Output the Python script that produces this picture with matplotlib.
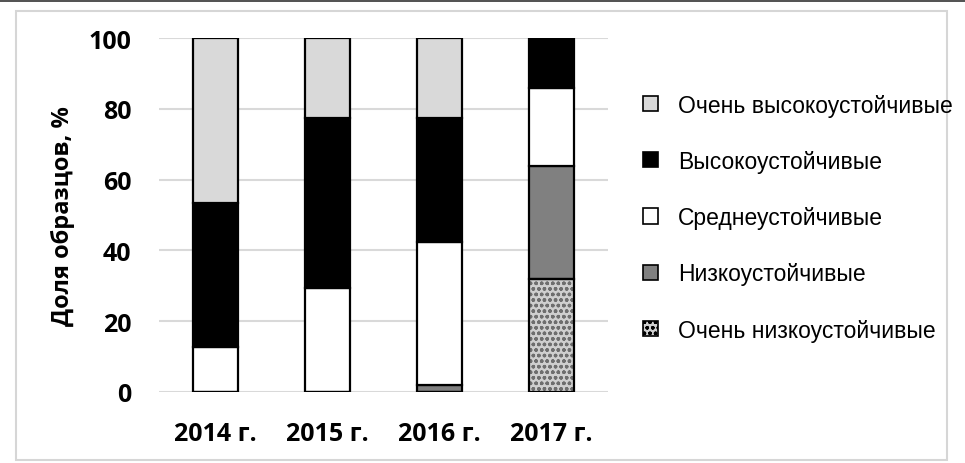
import matplotlib
matplotlib.use('Agg')
import matplotlib.pyplot as plt
from matplotlib.patches import Patch, Rectangle
import numpy as np

years = ['2014 г.', '2015 г.', '2016 г.', '2017 г.']
very_low = [0, 0, 0, 31.8]
low = [0, 0, 2.0, 32.2]
medium = [12.6, 29.5, 40.4, 21.9]
high = [40.8, 47.9, 35.0, 14.1]
very_high = [46.6, 22.6, 22.6, 0]

labels = ['Очень низкоустойчивые', 'Низкоустойчивые', 'Среднеустойчивые',
          'Высокоустойчивые', 'Очень высокоустойчивые']
colors = ['#cfcfcf', '#808080', '#ffffff', '#000000', '#d9d9d9']

W, H = 965, 464
fig = plt.figure(figsize=(9.65, 4.64), dpi=100)
ax = fig.add_axes([159 / W, 1 - 392.8 / H, (607.7 - 159) / W, (392.8 - 39.3) / H])

x = np.arange(len(years))
bw = 0.4
bottom = np.zeros(len(years))
series = [very_low, low, medium, high, very_high]
for i, vals in enumerate(series):
    vals = np.array(vals, dtype=float)
    if i == 0:
        # speckled fill for the lowest class, then a black outline over it
        ax.bar(x, vals, bw, bottom=bottom, color=colors[i], hatch='ooo',
               edgecolor='#6e6e6e', linewidth=0, zorder=3)
        ax.bar(x, vals, bw, bottom=bottom, fill=False, edgecolor='black',
               linewidth=1.6, zorder=4)
    else:
        ax.bar(x, vals, bw, bottom=bottom, color=colors[i], edgecolor='black',
               linewidth=1.6, zorder=3)
    bottom += vals

ax.set_xlim(-0.5, 3.5)
ax.set_ylim(0, 100)
ax.set_yticks([0, 20, 40, 60, 80, 100])
ax.set_xticks(x)
ax.set_xticklabels(years)
ax.grid(axis='y', color='#d9d9d9', linewidth=1.5, zorder=0)
ax.set_axisbelow(True)
for s in ax.spines.values():
    s.set_visible(False)
ax.tick_params(length=0)
ax.tick_params(axis='y', pad=20)
ax.tick_params(axis='x', pad=21)
for t in ax.get_xticklabels() + ax.get_yticklabels():
    t.set_fontfamily('Open Sans')
    t.set_fontweight('bold')
    t.set_fontsize(18)

fig.text(63 / W, 1 - 216.5 / H, 'Доля образцов, %', rotation=90, ha='center',
         va='center', fontsize=17, fontweight='bold', family='Open Sans')

# legend, top entry first
handles = []
for i in range(4, -1, -1):
    if i == 0:
        handles.append(Patch(facecolor=colors[i], edgecolor='black', hatch='ooo', linewidth=1.2))
    else:
        handles.append(Patch(facecolor=colors[i], edgecolor='black', linewidth=1.2))
leg = fig.legend(handles, labels[::-1], loc='upper left',
                 bbox_to_anchor=(622 / W, 1 - 74 / H), frameon=False,
                 handlelength=0.65, handleheight=0.65, handletextpad=0.9,
                 labelspacing=1.45, prop={'family': 'Liberation Sans', 'size': 16.5})

# outer light frame and dark top band
fig.patches.append(Rectangle((16 / W, 1 - 461 / H), (947 - 16) / W, (461 - 11.5) / H,
                             transform=fig.transFigure, fill=False,
                             edgecolor='#d6d6d6', linewidth=1.5, zorder=0))
fig.patches.append(Rectangle((0, 1 - 3 / H), 1, 3 / H, transform=fig.transFigure,
                             facecolor='#555555', edgecolor='none'))

fig.savefig('out.png', dpi=100)
